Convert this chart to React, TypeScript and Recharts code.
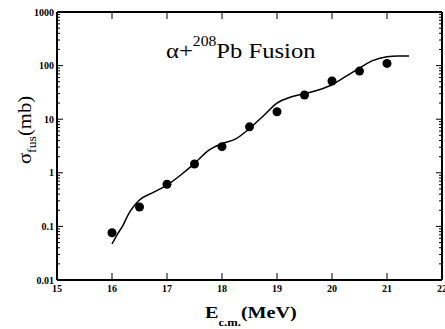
import {
  ComposedChart,
  Line,
  Scatter,
  XAxis,
  YAxis,
  Customized,
} from "recharts";

// measured fusion cross sections (points)
const expEnergy = [16, 16.5, 17, 17.5, 18, 18.5, 19, 19.5, 20, 20.5, 21];
const expSigma = [0.076, 0.23, 0.61, 1.46, 3.07, 7.2, 13.8, 28.3, 51.6, 79, 110];

// calculated curve
const calcEnergy = [
  16.0, 16.1, 16.2, 16.3, 16.4, 16.5, 16.75, 17, 17.25, 17.5, 17.75, 18, 18.25,
  18.5, 18.75, 19, 19.25, 19.5, 19.75, 20, 20.25, 20.5, 20.75, 21, 21.2, 21.4,
];
const calcSigma = [
  0.047, 0.072, 0.105, 0.17, 0.24, 0.31, 0.43, 0.59, 0.91, 1.5, 2.6, 3.5, 4.3,
  6.7, 11.5, 20, 26, 30, 35, 44, 63, 90, 125, 146, 151, 151,
];

const xTicks = [15, 16, 17, 18, 19, 20, 21, 22];
const yDecades = [0.01, 0.1, 1, 10, 100, 1000];
const yTicks = [
  ...yDecades.slice(0, -1).flatMap((d) =>
    [1, 2, 3, 4, 5, 6, 7, 8, 9].map((m) => +(m * d).toPrecision(6))
  ),
  1000,
];

const expData = expEnergy.map((x, i) => ({ x, y: expSigma[i] }));
const calcData = calcEnergy.map((x, i) => ({ x, y: calcSigma[i] }));

const FONT = "'Liberation Serif', 'Times New Roman', serif";
const axisLine = { stroke: "#000", strokeWidth: 2 };

const isMajor = (v: number) => {
  const l = Math.log10(v);
  return Math.abs(l - Math.round(l)) < 1e-6;
};

const LeftTick = (props: any) => {
  const { x, y, payload } = props;
  const v = payload.value;
  const major = isMajor(v);
  return (
    <g>
      <line x1={x} x2={x + (major ? 6 : 3)} y1={y} y2={y} stroke="#000" />
      {major && (
        <text
          x={x - 3}
          y={y}
          dy={3.5}
          textAnchor="end"
          fontSize={10}
          fontWeight="bold"
          fontFamily={FONT}
        >
          {String(v)}
        </text>
      )}
    </g>
  );
};

const RightTick = (props: any) => {
  const { x, y, payload } = props;
  const major = isMajor(payload.value);
  return <line x1={x} x2={x - (major ? 6 : 3)} y1={y} y2={y} stroke="#000" />;
};

const BottomTick = (props: any) => {
  const { x, y, payload } = props;
  return (
    <g>
      <line x1={x} x2={x} y1={y} y2={y - 7} stroke="#000" />
      <text
        x={x}
        y={y + 12}
        textAnchor="middle"
        fontSize={10}
        fontWeight="bold"
        fontFamily={FONT}
      >
        {payload.value}
      </text>
    </g>
  );
};

const TopTick = (props: any) => {
  const { x, y } = props;
  return <line x1={x} x2={x} y1={y} y2={y + 7} stroke="#000" />;
};

const Titles = () => (
  <g fontFamily={FONT} fill="#000">
    {/* in-plot title */}
    <g transform="translate(166,58) scale(1.12,1)">
      <text x={0} y={0} fontSize={22}>
        α+
        <tspan fontSize={14} dy={-12}>
          208
        </tspan>
        <tspan dy={12}>Pb Fusion</tspan>
      </text>
    </g>
    {/* x title */}
    <g transform="translate(205,317.5) scale(1.15,1)">
      <text x={0} y={0} fontSize={17.5} fontWeight="bold">
        E
        <tspan fontSize={11} dy={8}>
          c.m.
        </tspan>
        <tspan dy={-8}>(MeV)</tspan>
      </text>
    </g>
    {/* y title */}
    <g transform="translate(31,130) rotate(-90) scale(1.15,1)">
      <text x={0} y={0} fontSize={18} textAnchor="middle">
        σ
        <tspan fontSize={12} dy={5}>
          fus
        </tspan>
        <tspan dy={-5}>(mb)</tspan>
      </text>
    </g>
  </g>
);

export default function App() {
  return (
    <div style={{ position: "fixed", left: 0, top: 0, width: 445, height: 329, background: "#fff" }}>
      <ComposedChart
        width={445}
        height={329}
        margin={{ top: 0, right: 0, bottom: 0, left: 0 }}
      >
        <XAxis
          xAxisId="bottom"
          dataKey="x"
          type="number"
          domain={[15, 22]}
          ticks={xTicks}
          interval={0}
          height={49}
          axisLine={axisLine}
          tickLine={false}
          tickSize={0}
          tickMargin={0}
          tick={<BottomTick />}
          allowDataOverflow
        />
        <XAxis
          xAxisId="top"
          orientation="top"
          dataKey="x"
          type="number"
          domain={[15, 22]}
          ticks={xTicks}
          interval={0}
          height={12}
          axisLine={axisLine}
          tickLine={false}
          tickSize={0}
          tickMargin={0}
          tick={<TopTick />}
          allowDataOverflow
        />
        <YAxis
          yAxisId="left"
          dataKey="y"
          type="number"
          scale="log"
          domain={[0.01, 1000]}
          ticks={yTicks}
          interval={0}
          width={57}
          axisLine={axisLine}
          tickLine={false}
          tickSize={0}
          tickMargin={0}
          tick={<LeftTick />}
          allowDataOverflow
        />
        <YAxis
          yAxisId="right"
          orientation="right"
          dataKey="y"
          type="number"
          scale="log"
          domain={[0.01, 1000]}
          ticks={yTicks}
          interval={0}
          width={3}
          axisLine={axisLine}
          tickLine={false}
          tickSize={0}
          tickMargin={0}
          tick={<RightTick />}
          allowDataOverflow
        />
        <Line
          data={calcData}
          xAxisId="bottom"
          yAxisId="left"
          dataKey="y"
          type="monotone"
          stroke="#000"
          strokeWidth={1.5}
          dot={false}
          isAnimationActive={false}
        />
        <Scatter
          data={expData}
          xAxisId="bottom"
          yAxisId="left"
          dataKey="y"
          fill="#000"
          shape={(p: any) => <circle cx={p.cx} cy={p.cy} r={4.5} fill="#000" />}
          isAnimationActive={false}
        />
        <Customized component={Titles} />
      </ComposedChart>
    </div>
  );
}
